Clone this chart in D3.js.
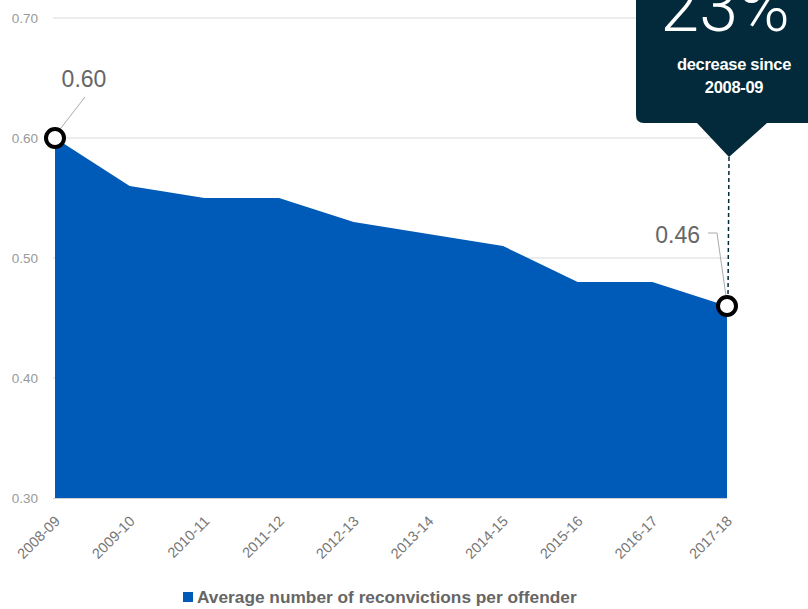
<!DOCTYPE html>
<html><head><meta charset="utf-8">
<script src="https://cdn.jsdelivr.net/npm/d3@7"></script>
<style>body{margin:0;background:#fff;}svg{display:block;font-family:"Liberation Sans",Arial,sans-serif;}</style>
</head><body>
<svg id="c" width="808" height="609"></svg>
<script>
const categories = ["2008-09","2009-10","2010-11","2011-12","2012-13","2013-14","2014-15","2015-16","2016-17","2017-18"];
const values = [0.60,0.56,0.55,0.55,0.53,0.52,0.51,0.48,0.48,0.46];
const yTicks = [0.30,0.40,0.50,0.60,0.70];
const seriesName = "Average number of reconvictions per offender";
const calloutBig = "23%";
const calloutLines = ["decrease since","2008-09"];

const svg = d3.select("#c");
const x = d3.scalePoint().domain(categories).range([55,727]);
const y = d3.scaleLinear().domain([0.30,0.70]).range([498,18]);

// gridlines
svg.append("g").selectAll("line").data(yTicks.filter(d=>d>0.3)).join("line")
  .attr("x1",53).attr("x2",727).attr("y1",d=>y(d)).attr("y2",d=>y(d))
  .attr("stroke","#d9d9d9").attr("stroke-width",1);

// y labels
svg.append("g").selectAll("text").data(yTicks).join("text")
  .attr("x",38).attr("y",d=>y(d)+5).attr("text-anchor","end")
  .attr("font-size",13.5).attr("fill","#999").text(d=>d.toFixed(2));

// area
const area = d3.area().x((d,i)=>x(categories[i])).y0(y(0.30)).y1(d=>y(d));
svg.append("path").datum(values).attr("d",area).attr("fill","#005ab8");
svg.append("line").attr("x1",53).attr("x2",727).attr("y1",y(0.30)+0.5).attr("y2",y(0.30)+0.5)
  .attr("stroke","#d0d0d0");

// x labels
svg.append("g").selectAll("text").data(categories).join("text")
  .attr("transform",d=>`translate(${x(d)+6},${y(0.30)+24}) rotate(-45)`)
  .attr("text-anchor","end").attr("font-size",14.5).attr("fill","#777").text(d=>d);

// callout box
const last = categories[categories.length-1];
const lx = x(last)+2;
svg.append("path")
  .attr("d",`M636,-10 L820,-10 L820,115 Q820,123 812,123 L767,123 L${lx},157 L697,123 L644,123 Q636,123 636,115 Z`)
  .attr("fill","#022a3a");
svg.append("line").attr("x1",lx).attr("x2",lx-1).attr("y1",157).attr("y2",y(values[values.length-1])-8)
  .attr("stroke","#022a3a").attr("stroke-width",1.5).attr("stroke-dasharray","4,3");
svg.append("text").attr("x",725).attr("y",31).attr("text-anchor","middle")
  .attr("font-family","Roboto, sans-serif").attr("font-weight",300)
  .attr("font-size",70).attr("fill","#fff").text(calloutBig);
svg.append("g").selectAll("text").data(calloutLines).join("text")
  .attr("x",734).attr("y",(d,i)=>70+i*23).attr("text-anchor","middle")
  .attr("font-size",16.5).attr("font-weight","bold").attr("letter-spacing",-0.3)
  .attr("fill","#fff").text(d=>d);

// value labels
const first = categories[0];
svg.append("line").attr("x1",85).attr("y1",97).attr("x2",x(first)+6).attr("y2",y(values[0])-10)
  .attr("stroke","#aaa");
svg.append("text").attr("x",84).attr("y",87).attr("text-anchor","middle")
  .attr("font-size",23).attr("fill","#666").text(values[0].toFixed(2));
const vl = values[values.length-1];
svg.append("polyline").attr("points",`708,233 717,233 ${x(last)-1},${y(vl)-10}`)
  .attr("fill","none").attr("stroke","#aaa");
svg.append("text").attr("x",700).attr("y",243).attr("text-anchor","end")
  .attr("font-size",23).attr("fill","#666").text(vl.toFixed(2));

// markers
svg.append("g").selectAll("circle").data([0,values.length-1]).join("circle")
  .attr("cx",i=>x(categories[i])).attr("cy",i=>y(values[i])).attr("r",9)
  .attr("fill","#fff").attr("stroke","#000").attr("stroke-width",4);

// legend
svg.append("rect").attr("x",183).attr("y",592).attr("width",10).attr("height",10).attr("fill","#005ab8");
svg.append("text").attr("x",197).attr("y",603).attr("font-size",17.3).attr("fill","#666")
  .attr("font-weight","bold").text(seriesName);
</script>
</body></html>
